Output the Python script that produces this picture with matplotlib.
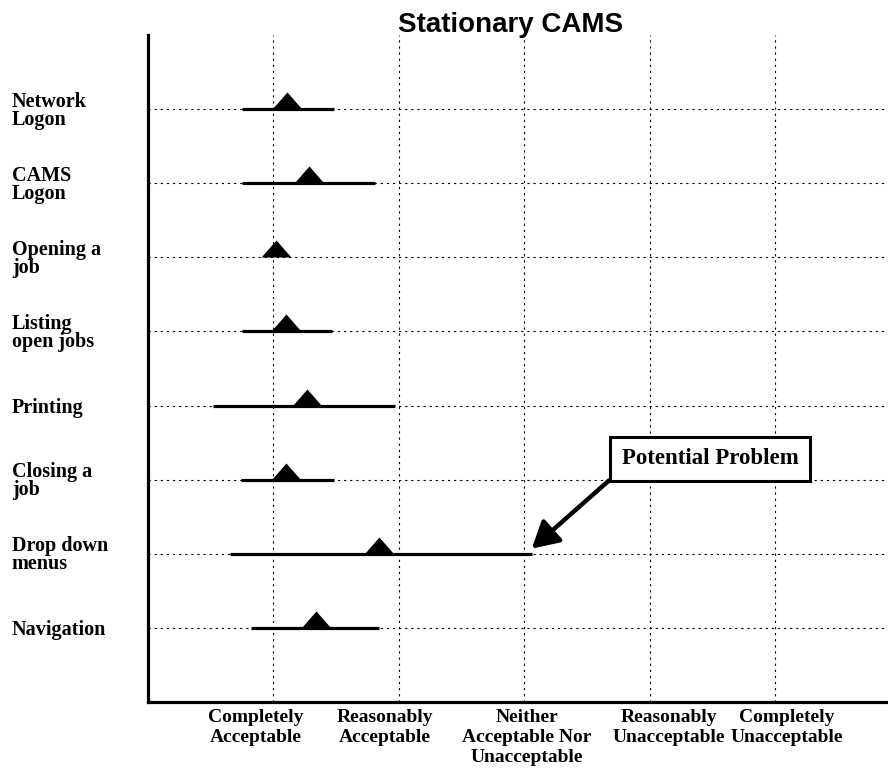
import matplotlib
matplotlib.use('Agg')
import matplotlib.pyplot as plt
from matplotlib.path import Path

# survey items, top to bottom
tasks = ['Network\nLogon', 'CAMS\nLogon', 'Opening a\njob', 'Listing\nopen jobs',
         'Printing', 'Closing a\njob', 'Drop down\nmenus', 'Navigation']
means = [1.11, 1.28, 1.02, 1.10, 1.27, 1.10, 1.84, 1.34]
lows = [0.75, 0.75, 1.02, 0.75, 0.52, 0.74, 0.65, 0.82]
highs = [1.48, 1.81, 1.02, 1.47, 1.97, 1.48, 3.06, 1.84]

scale_ticks = [1, 2, 3, 4, 5]
scale_labels = ['Completely\nAcceptable', 'Reasonably\nAcceptable',
                'Neither\nAcceptable Nor\nUnacceptable',
                'Reasonably\nUnacceptable', 'Completely\nUnacceptable']
scale_label_pos = [0.86, 1.89, 3.02, 4.15, 5.09]

SERIF = 'Liberation Serif'

fig: plt.Figure
ax: plt.Axes
fig = plt.figure(figsize=(8.88, 7.70), dpi=100)
ax = fig.add_axes([148 / 888, 68 / 770, 740 / 888, 667 / 770])

rows = list(range(len(tasks)))

# range bars
ax.hlines(rows, lows, highs, colors='black', linewidth=2.3, zorder=3)

# triangle sitting on the bar (base on the line, apex up)
tri = Path([(-0.5, 0.0), (0.5, 0.0), (0.0, 0.57), (-0.5, 0.0)],
           [Path.MOVETO, Path.LINETO, Path.LINETO, Path.CLOSEPOLY])
ax.plot(means, rows, linestyle='none', marker=tri, markersize=24.5,
        color='black', markeredgewidth=0, zorder=4)

ax.set_xlim(0, 5.9)
ax.set_ylim(8, -1)

ax.set_xticks(scale_ticks, [])
ax.set_xticks(scale_label_pos, scale_labels, minor=True)
ax.tick_params(axis='x', which='both', length=0)
ax.tick_params(axis='x', which='minor', pad=5)
for lbl in ax.get_xticklabels(minor=True):
    lbl.set_fontfamily(SERIF)
    lbl.set_fontweight('bold')
    lbl.set_fontsize(14)
    lbl.set_linespacing(1.22)

ax.set_yticks(rows, tasks, ha='left', fontfamily=SERIF, fontweight='bold',
              fontsize=14.5, linespacing=0.88)
ax.tick_params(axis='y', length=0, pad=98)

ax.grid(which='major', color='black', linestyle=(0, (2, 3.5)), linewidth=0.8)
ax.set_axisbelow(True)

for side in ('top', 'right'):
    ax.spines[side].set_visible(False)
for side in ('left', 'bottom'):
    ax.spines[side].set_linewidth(2.3)

fig.text(511 / 888, 1 - 32 / 770, 'Stationary CAMS', ha='center', va='baseline',
         fontfamily='Liberation Sans', fontweight='bold', fontsize=20)

ax.annotate('Potential Problem', xy=(highs[6], rows[6] - 0.07), xytext=(4.48, 4.72),
            ha='center', va='center', fontfamily=SERIF, fontweight='bold', fontsize=16.5,
            bbox=dict(boxstyle='square,pad=0.5', fc='white', ec='black', lw=2.2),
            arrowprops=dict(arrowstyle='-|>,head_length=0.8,head_width=0.45',
                            color='black', lw=3.2, mutation_scale=20,
                            relpos=(0.0, 0.0), shrinkA=0, shrinkB=0))

fig.savefig('out.png', dpi=100)
